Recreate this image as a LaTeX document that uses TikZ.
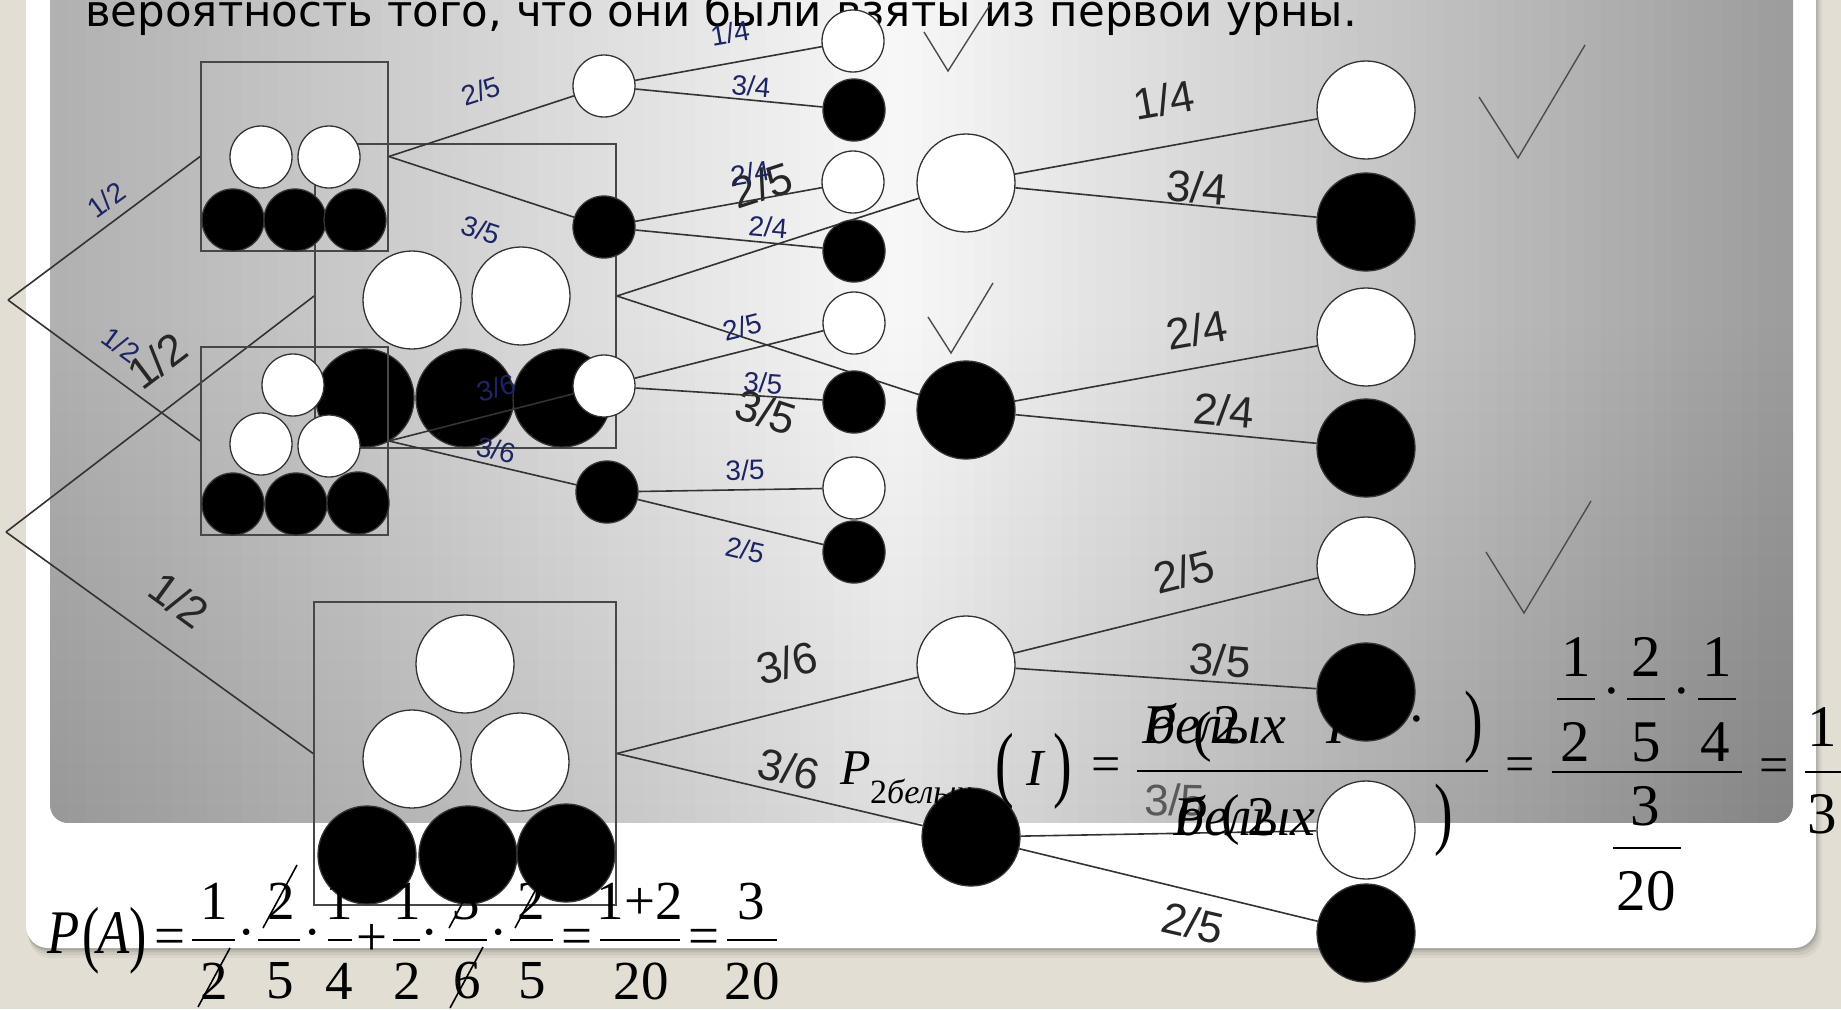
\documentclass[tikz,border=0pt]{standalone}
\usepackage{fontspec}
\usepackage{graphicx}
\setmainfont{Liberation Serif}
\newfontfamily\labelfont{Liberation Sans}
\newfontfamily\titlefont{DejaVu Sans}
\newcommand\fsz[1]{\fontsize{#1}{#1}\selectfont}
\newcommand\tallp[2]{\scalebox{1}[#1]{#2}}
\definecolor{beige}{HTML}{E3DED3}
\definecolor{navy}{HTML}{1C2464}
\begin{document}
\begin{tikzpicture}[x=1pt,y=-1pt,
  lbls/.style={font=\labelfont\fsz{28}, text=navy, inner sep=0},
  lblb/.style={font=\labelfont\fsz{44}, text=black!85, inner sep=0},
  ws/.style={circle, draw=black!80, line width=1.3pt, fill=white, minimum size=62pt, inner sep=0},
  bs/.style={ws, fill=black},
  wb/.style={ws, minimum size=98pt},
  bb/.style={wb, fill=black},
  urn/.style={draw=black!72, line width=1.8pt, inner sep=0},
  edge/.style={draw=black!80, line width=1.6pt},
  tick/.style={draw=black!70, line width=1.4pt},
  fm/.style={inner sep=0, text=black},
  fbar/.style={draw=black, line width=2.6pt},
  fslash/.style={draw=black, line width=1.6pt}
]
\useasboundingbox (0,0) rectangle (1841,1009);
\clip (0,0) rectangle (1841,1009);
% background
\fill[beige] (0,0) rectangle (1841,1009);
\foreach \d/\o in {10/0.04,7/0.06,4/0.08,2/0.1}
  \fill[black,opacity=\o,rounded corners=22] (26+0.3*\d,-40) rectangle (1816+0.6*\d,948+\d);
\fill[white,rounded corners=22] (26,-40) rectangle (1816,948);
% panel gradient built from strips
\begin{scope}
  \clip[rounded corners=18] (50,-40) rectangle (1793,823);
  \foreach \i in {0,...,99} {
    \pgfmathsetmacro\xa{50+\i*17.43}
    \pgfmathsetmacro\xb{\xa+18.2}
    \pgfmathsetmacro\xc{\xa+8.7}
    \pgfmathsetmacro\pa{31-(\xc-50)/850*28}
    \pgfmathsetmacro\pb{3+(\xc-900)/893*36}
    \pgfmathsetmacro\pc{\xc<900 ? \pa : \pb}
    \fill[black!\pc] (\xa,-40) rectangle (\xb,823);
  }
  \foreach \j in {0,...,23} {
    \pgfmathsetmacro\ya{330+\j*20.6}
    \fill[black,opacity=0.0055] (50,\ya) rectangle (1793,830);
  }
\end{scope}

% title
\node[anchor=base west, font=\titlefont\fsz{43.5}, inner sep=0] (title) at (85,27) {вероятность того, что они были взяты из первой урны.};

% ================= big tree =================
\coordinate (G0) at (6,532);
\node[urn, minimum width=301pt, minimum height=304pt] (gbox1) at (465.5,296) {};
\node[urn, minimum width=302pt, minimum height=303pt] (gbox2) at (465,753.5) {};
\node[wb] (g1a) at (412,300) {};
\node[wb] (g1b) at (521,296) {};
\node[bb] (g1c) at (365,398) {};
\node[bb] (g1d) at (465,398) {};
\node[bb] (g1e) at (562,398) {};
\node[wb] (g2a) at (465,664) {};
\node[wb] (g2b) at (412,759) {};
\node[wb] (g2c) at (520,762) {};
\node[bb] (g2d) at (367,855) {};
\node[bb] (g2e) at (468,855) {};
\node[bb] (g2f) at (566,853) {};

\node[wb] (gw1) at (966,183) {};
\node[bb] (gb1) at (966,410) {};
\node[wb] (gw2) at (966,665) {};
\node[bb] (gb2) at (971,837) {};
\node[wb] (g11) at (1366,110) {};
\node[bb] (g12) at (1366,222) {};
\node[wb] (g21) at (1366,337) {};
\node[bb] (g22) at (1366,448) {};
\node[wb] (g31) at (1366,566) {};
\node[bb] (g32) at (1366,692) {};
\node[wb] (g41) at (1366,830) {};
\node[bb] (g42) at (1366,933) {};

\draw[edge] (G0) -- (gbox1.west);
\draw[edge] (G0) -- (gbox2.west);
\draw[edge] (gbox1.east) -- (gw1);
\draw[edge] (gbox1.east) -- (gb1);
\draw[edge] (gbox2.east) -- (gw2);
\draw[edge] (gbox2.east) -- (gb2);
\draw[edge] (gw1) -- (g11);
\draw[edge] (gw1) -- (g12);
\draw[edge] (gb1) -- (g21);
\draw[edge] (gb1) -- (g22);
\draw[edge] (gw2) -- (g31);
\draw[edge] (gw2) -- (g32);
\draw[edge] (gb2) -- (g41);
\draw[edge] (gb2) -- (g42);

\node[lblb, rotate=37] (lg1) at (157,361) {1/2};
\node[lblb, rotate=-36] (lg2) at (179,600) {1/2};
\node[lblb, rotate=18] (lg3) at (762,185) {2/5};
\node[lblb, rotate=-18] (lg4) at (766,412) {3/5};
\node[lblb, rotate=10] (lg5) at (1164,100) {1/4};
\node[lblb, rotate=-5] (lg6) at (1197,187) {3/4};
\node[lblb, rotate=10] (lg7) at (1197,330) {2/4};
\node[lblb, rotate=-5] (lg8) at (1224,410) {2/4};
\node[lblb, rotate=14] (lg9) at (787,663) {3/6};
\node[lblb, rotate=-13] (lg10) at (789,769) {3/6};
\node[lblb, rotate=14] (lg11) at (1184,572) {2/5};
\node[lblb, rotate=-4] (lg12) at (1220,660) {3/5};
\node[lblb, rotate=-1, text=black!65] (lg13) at (1175,800) {3/5};
\node[lblb, rotate=-13] (lg14) at (1193,923) {2/5};

% ================= small tree =================
\coordinate (S0) at (8,300);
\node[urn, minimum width=187pt, minimum height=189pt] (sbox1) at (294.5,156.5) {};
\node[urn, minimum width=187pt, minimum height=188pt] (sbox2) at (294.5,441) {};
\node[ws] (s1a) at (261,157) {};
\node[ws] (s1b) at (329,157) {};
\node[bs] (s1c) at (233,220) {};
\node[bs] (s1d) at (295,220) {};
\node[bs] (s1e) at (355,220) {};
\node[ws] (s2a) at (293,385) {};
\node[ws] (s2b) at (261,444) {};
\node[ws] (s2c) at (329,446) {};
\node[bs] (s2d) at (233,504) {};
\node[bs] (s2e) at (296,504) {};
\node[bs] (s2f) at (358,503) {};

\node[ws] (sw1) at (604,86) {};
\node[bs] (sb1) at (604,227) {};
\node[ws] (sw2) at (604,386) {};
\node[bs] (sb2) at (607,492) {};
\node[ws] (s11) at (853,41) {};
\node[bs] (s12) at (854,110) {};
\node[ws] (s21) at (853,182) {};
\node[bs] (s22) at (854,251) {};
\node[ws] (s31) at (854,323) {};
\node[bs] (s32) at (854,402) {};
\node[ws] (s41) at (854,488) {};
\node[bs] (s42) at (854,552) {};

\draw[edge] (S0) -- (sbox1.west);
\draw[edge] (S0) -- (sbox2.west);
\draw[edge] (sbox1.east) -- (sw1);
\draw[edge] (sbox1.east) -- (sb1);
\draw[edge] (sbox2.east) -- (sw2);
\draw[edge] (sbox2.east) -- (sb2);
\draw[edge] (sw1) -- (s11);
\draw[edge] (sw1) -- (s12);
\draw[edge] (sb1) -- (s21);
\draw[edge] (sb1) -- (s22);
\draw[edge] (sw2) -- (s31);
\draw[edge] (sw2) -- (s32);
\draw[edge] (sb2) -- (s41);
\draw[edge] (sb2) -- (s42);

\node[lbls, rotate=36] (ls1) at (106,200) {1/2};
\node[lbls, rotate=-36] (ls2) at (121,345) {1/2};
\node[lbls, rotate=18] (ls3) at (481,91) {2/5};
\node[lbls, rotate=-18] (ls4) at (481,230) {3/5};
\node[lbls, rotate=10] (ls5) at (730,33) {1/4};
\node[lbls, rotate=-5] (ls6) at (751,86) {3/4};
\node[lbls, rotate=10] (ls7) at (750,173) {2/4};
\node[lbls, rotate=-5] (ls8) at (768,227) {2/4};
\node[lbls, rotate=15] (ls9) at (496,388) {3/6};
\node[lbls, rotate=-13] (ls10) at (496,450) {3/6};
\node[lbls, rotate=14] (ls11) at (742,327) {2/5};
\node[lbls, rotate=-4] (ls12) at (763,383) {3/5};
\node[lbls, rotate=1] (ls13) at (745,470) {3/5};
\node[lbls, rotate=-13] (ls14) at (745,550) {2/5};

% ticks
\draw[tick] (924,32) -- (948,71) -- (990,5);
\draw[tick] (1479,97) -- (1518,158) -- (1585,45);
\draw[tick] (928,317) -- (951,353) -- (993,283);
\draw[tick] (1486,552) -- (1524,613) -- (1591,501);

% ================= formula P(A) =================
\node[fm,font=\itshape\fsz{62}] (pa1) at (64,933) {\scalebox{0.85}[1]{P}};
\node[fm,font=\fsz{52}] (pa2) at (91,941) {\tallp{1.42}{(}};
\node[fm,font=\itshape\fsz{62}] (pa3) at (114,933) {\scalebox{0.85}[1]{A}};
\node[fm,font=\fsz{52}] (pa4) at (138,941) {\tallp{1.42}{)}};
\node[fm,font=\fsz{55}] (pa5) at (170,942) {=};
\draw[fbar] (192,940) -- (235,940);
\node[fm,font=\fsz{55}] (pa6) at (214.5,901.5) {1};
\node[fm,font=\fsz{55}] (pa7) at (214,981) {2};
\draw[fslash] (198,1007) -- (230,948);
\node[fm,font=\fsz{55}] (pa8) at (247,940) {·};
\draw[fbar] (258,940) -- (300,940);
\node[fm,font=\fsz{55}] (pa9) at (281,901.5) {2};
\draw[fslash] (263,928) -- (297,865);
\node[fm,font=\fsz{55}] (pa10) at (280,981) {5};
\node[fm,font=\fsz{55}] (pa11) at (313,940) {·};
\draw[fbar] (328,940) -- (352,940);
\node[fm,font=\fsz{55}] (pa12) at (339,901.5) {1};
\node[fm,font=\fsz{55}] (pa13) at (339,981) {4};
\node[fm,font=\fsz{55}] (pa14) at (372,940) {+};
\draw[fbar] (393,940) -- (420,940);
\node[fm,font=\fsz{55}] (pa15) at (407,901.5) {1};
\node[fm,font=\fsz{55}] (pa16) at (407,981) {2};
\node[fm,font=\fsz{55}] (pa17) at (430,940) {·};
\draw[fbar] (445,940) -- (487,940);
\node[fm,font=\fsz{55}] (pa18) at (466,901.5) {3};
\draw[fslash] (449,928) -- (483,865);
\node[fm,font=\fsz{55}] (pa19) at (467,981) {6};
\draw[fslash] (450,1008) -- (483,947);
\node[fm,font=\fsz{55}] (pa20) at (499,940) {·};
\draw[fbar] (510,940) -- (553,940);
\node[fm,font=\fsz{55}] (pa21) at (531,901.5) {2};
\draw[fslash] (515,928) -- (549,865);
\node[fm,font=\fsz{55}] (pa22) at (532,981) {5};
\node[fm,font=\fsz{55}] (pa23) at (577,942) {=};
\draw[fbar] (600,940) -- (680,940);
\node[fm,font=\fsz{55}] (pa24) at (640,901.5) {1+2};
\node[fm,font=\fsz{55}] (pa25) at (641,981) {20};
\node[fm,font=\fsz{55}] (pa26) at (704,942) {=};
\draw[fbar] (727,940) -- (777,940);
\node[fm,font=\fsz{55}] (pa27) at (751,901.5) {3};
\node[fm,font=\fsz{55}] (pa28) at (752,981) {20};

% ================= formula P_2 ... =================
\node[fm,font=\itshape\fsz{50}] (rf1) at (856,768) {P};
\node[fm,font=\fsz{34},anchor=base west] (rf2) at (870,803) {2\itshape белых};
\node[fm,font=\fsz{56}] (rf3) at (1005,771) {\tallp{1.5}{(}};
\node[fm,font=\itshape\fsz{52}] (rf4) at (1035,768) {I};
\node[fm,font=\fsz{56}] (rf5) at (1063,771) {\tallp{1.5}{)}};
\node[fm,font=\fsz{52}] (rf6) at (1106,770) {=};
\draw[fbar] (1137,771) -- (1488,771);
\node[fm,font=\itshape\fsz{56},anchor=base west] (rn1) at (1142,743) {P};
\node[fm,font=\itshape\fsz{56},anchor=base west] (rn2) at (1147,743) {белых};
\node[fm,font=\fsz{56}] (rn3) at (1203,737) {(};
\node[fm,font=\fsz{56},anchor=base west] (rn4) at (1213,743) {2};
\node[fm,font=\itshape\fsz{56},anchor=base west] (rn5) at (1326,743) {I};
\node[fm,font=\fsz{56}] (rn6) at (1417,727) {·};
\node[fm,font=\fsz{56}] (rn7) at (1474,727) {\tallp{1.43}{)}};
\node[fm,font=\itshape\fsz{56},anchor=base west] (rd1) at (1173,835) {P};
\node[fm,font=\itshape\fsz{56},anchor=base west] (rd2) at (1176,835) {белых};
\node[fm,font=\fsz{56}] (rd3) at (1231,820) {(};
\node[fm,font=\fsz{56},anchor=base west] (rd4) at (1247,835) {2};
\node[fm,font=\fsz{56}] (rd5) at (1444,820) {\tallp{1.43}{)}};
\node[fm,font=\fsz{52}] (rf7) at (1520,770) {=};
\draw[fbar] (1552,772) -- (1742,772);
\draw[fbar] (1557,699) -- (1595,699);
\node[fm,font=\fsz{59}] (rq1) at (1576,657) {1};
\node[fm,font=\fsz{59}] (rq2) at (1575,742) {2};
\node[fm,font=\fsz{56}] (rq3) at (1612,699) {·};
\draw[fbar] (1627,699) -- (1665,699);
\node[fm,font=\fsz{59}] (rq4) at (1646,657) {2};
\node[fm,font=\fsz{59}] (rq5) at (1646,742) {5};
\node[fm,font=\fsz{56}] (rq6) at (1682,699) {·};
\draw[fbar] (1698,699) -- (1736,699);
\node[fm,font=\fsz{59}] (rq7) at (1717,657) {1};
\node[fm,font=\fsz{59}] (rq8) at (1715,742) {4};
\node[fm,font=\fsz{59}] (rq9) at (1645,806) {3};
\draw[fbar] (1613,848) -- (1681,848);
\node[fm,font=\fsz{59}] (rq10) at (1646,891) {20};
\node[fm,font=\fsz{52}] (rf8) at (1774,771) {=};
\node[fm,font=\fsz{59}] (rq11) at (1822,727) {1};
\draw[fbar] (1805,772) -- (1850,772);
\node[fm,font=\fsz{59}] (rq12) at (1822,814) {3};
\end{tikzpicture}
\end{document}
